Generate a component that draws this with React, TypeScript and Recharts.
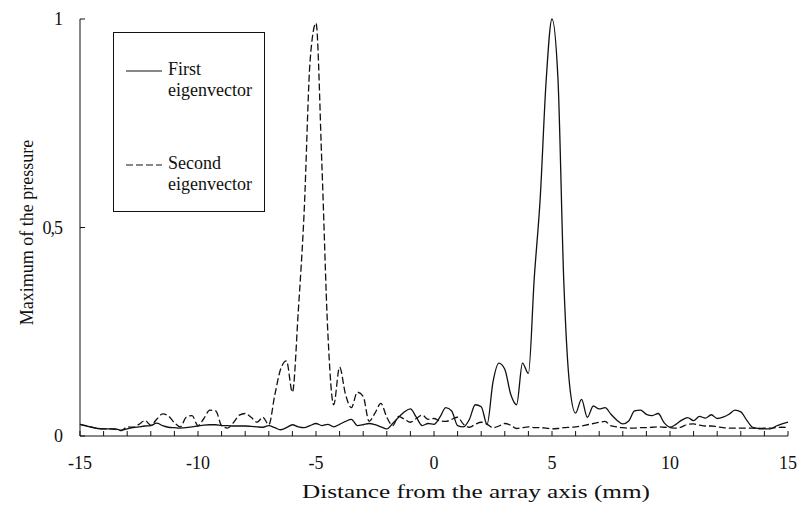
import { LineChart, Line, XAxis, YAxis, Legend, Label } from "recharts";

// distance from the array axis, mm
const distance = [
  -15, -14.75, -14.5, -14.25, -14, -13.75, -13.5, -13.25, -13, -12.75, -12.5, -12.25,
  -12, -11.75, -11.5, -11.25, -11, -10.75, -10.5, -10.25, -10, -9.75, -9.5, -9.25,
  -9, -8.75, -8.5, -8.25, -8, -7.75, -7.5, -7.25, -7, -6.75, -6.5, -6.25,
  -6, -5.75, -5.5, -5.25, -5, -4.75, -4.5, -4.25, -4, -3.75, -3.5, -3.25,
  -3, -2.75, -2.5, -2.25, -2, -1.75, -1.5, -1.25, -1, -0.75, -0.5, -0.25,
  0, 0.25, 0.5, 0.75, 1, 1.25, 1.5, 1.75, 2, 2.25, 2.5, 2.75,
  3, 3.25, 3.5, 3.75, 4, 4.25, 4.5, 4.75, 5, 5.25, 5.5, 5.75,
  6, 6.25, 6.5, 6.75, 7, 7.25, 7.5, 7.75, 8, 8.25, 8.5, 8.75,
  9, 9.25, 9.5, 9.75, 10, 10.25, 10.5, 10.75, 11, 11.25, 11.5, 11.75,
  12, 12.25, 12.5, 12.75, 13, 13.25, 13.5, 13.75, 14, 14.25, 14.5, 14.75,
  15,
];

const firstEigen = [
  0.028, 0.024, 0.021, 0.018, 0.017, 0.017, 0.017, 0.014, 0.017, 0.02, 0.022, 0.024,
  0.025, 0.031, 0.025, 0.021, 0.02, 0.019, 0.02, 0.022, 0.024, 0.026, 0.027, 0.027,
  0.025, 0.025, 0.024, 0.024, 0.024, 0.023, 0.022, 0.021, 0.025, 0.02, 0.015, 0.02,
  0.027, 0.022, 0.02, 0.025, 0.03, 0.025, 0.028, 0.022, 0.028, 0.035, 0.04, 0.025,
  0.027, 0.03, 0.027, 0.022, 0.017, 0.03, 0.045, 0.058, 0.065, 0.045, 0.025, 0.03,
  0.028, 0.045, 0.068, 0.06, 0.025, 0.022, 0.04, 0.075, 0.07, 0.028, 0.13, 0.175,
  0.16, 0.1, 0.075, 0.175, 0.15, 0.38, 0.57, 0.85, 1.0, 0.86, 0.37, 0.12,
  0.055, 0.088, 0.045, 0.072, 0.065, 0.068, 0.052, 0.038, 0.029, 0.036, 0.06, 0.062,
  0.052, 0.049, 0.054, 0.032, 0.021, 0.028, 0.038, 0.044, 0.037, 0.047, 0.043, 0.051,
  0.042, 0.045, 0.052, 0.062, 0.058, 0.038, 0.021, 0.018, 0.017, 0.017, 0.024, 0.029,
  0.033,
];

const secondEigen = [
  0.028, 0.025, 0.021, 0.018, 0.017, 0.017, 0.016, 0.013, 0.022, 0.021, 0.028, 0.037,
  0.026, 0.04, 0.053, 0.048, 0.032, 0.022, 0.045, 0.049, 0.025, 0.042, 0.062, 0.06,
  0.025, 0.019, 0.032, 0.05, 0.054, 0.045, 0.033, 0.045, 0.027, 0.097, 0.16, 0.18,
  0.105, 0.3, 0.54, 0.9, 0.99, 0.65, 0.25, 0.075, 0.165, 0.1, 0.068, 0.105,
  0.095, 0.035, 0.055, 0.078, 0.045, 0.025, 0.047, 0.04, 0.033, 0.042, 0.05, 0.04,
  0.042, 0.036, 0.035, 0.04, 0.045, 0.028, 0.021, 0.028, 0.033, 0.028, 0.02, 0.024,
  0.03, 0.026, 0.018, 0.02, 0.022, 0.02, 0.02, 0.019, 0.017, 0.018, 0.02, 0.021,
  0.022, 0.024, 0.027, 0.03, 0.033, 0.035, 0.024, 0.022, 0.02, 0.019, 0.019, 0.02,
  0.02, 0.021, 0.022, 0.021, 0.02, 0.019, 0.022, 0.028, 0.029, 0.026, 0.024, 0.024,
  0.022, 0.02, 0.019, 0.019, 0.019, 0.019, 0.019, 0.018, 0.019, 0.019, 0.02, 0.021,
  0.02,
];

const xTicks = [
  -15, -14, -13, -12, -11, -10, -9, -8, -7, -6, -5, -4, -3, -2, -1, 0,
  1, 2, 3, 4, 5, 6, 7, 8, 9, 10, 11, 12, 13, 14, 15,
];
const yTicks = [0, 0.5, 1];

const FONT = '"Liberation Serif", "Times New Roman", serif';
const INK = "#111";

const data = distance.map((x, i) => ({ x, first: firstEigen[i], second: secondEigen[i] }));

function XTick({ x, y, payload }: any) {
  const v = payload.value;
  return (
    <g>
      <line x1={x} x2={x} y1={y} y2={y - 5} stroke={INK} strokeWidth={1} />
      {v % 5 === 0 && (
        <text x={x} y={y + 33} textAnchor="middle" fontSize={18} fontFamily={FONT} fill={INK}>
          {v}
        </text>
      )}
    </g>
  );
}

function YTick({ x, y, payload }: any) {
  const label = String(payload.value).replace(".", ",");
  return (
    <g>
      <line x1={x} x2={x + 5} y1={y} y2={y} stroke={INK} strokeWidth={1} />
      <text x={x - 18} y={y + 6} textAnchor="end" fontSize={18} fontFamily={FONT} fill={INK} letterSpacing={-1}>
        {label}
      </text>
    </g>
  );
}

// the scanned figure has a wide, stretched x title
function XTitle({ viewBox }: any) {
  const cx = viewBox.x + viewBox.width / 2 + 42;
  return (
    <text
      x={cx}
      y={viewBox.y + 62}
      textAnchor="middle"
      fontSize={18}
      fontFamily={FONT}
      fill={INK}
      textLength={348}
      lengthAdjust="spacingAndGlyphs"
    >
      Distance from the array axis (mm)
    </text>
  );
}

function YTitle({ viewBox }: any) {
  const cx = viewBox.x + 7;
  const cy = viewBox.y + viewBox.height / 2 + 5;
  return (
    <text
      x={cx}
      y={cy}
      transform={`rotate(-90, ${cx}, ${cy})`}
      textAnchor="middle"
      dominantBaseline="central"
      fontSize={18}
      fontFamily={FONT}
      fill={INK}
    >
      Maximum of the pressure
    </text>
  );
}

function LegendBox({ payload }: any) {
  return (
    <div
      style={{
        width: 152,
        height: 180,
        border: `1px solid ${INK}`,
        boxSizing: "border-box",
        position: "relative",
        fontFamily: FONT,
        fontSize: 18,
        lineHeight: "21px",
        color: INK,
      }}
    >
      {(payload || []).map((p: any, i: number) => (
        <div key={p.value} style={{ position: "absolute", left: 10, top: 26 + i * 94, display: "flex" }}>
          <svg width={38} height={21} style={{ flex: "none" }}>
            <line
              x1={2}
              x2={38}
              y1={12}
              y2={12}
              stroke={INK}
              strokeWidth={1.2}
              strokeDasharray={p.payload?.strokeDasharray}
            />
          </svg>
          <div style={{ width: 95, marginLeft: 6, fontFamily: FONT }}>{p.value}</div>
        </div>
      ))}
    </div>
  );
}

export default function App() {
  return (
    <div style={{ position: "absolute", left: 0, top: 0, width: 799, height: 508, background: "#fff" }}>
      <LineChart width={799} height={508} data={data} margin={{ top: 19, right: 11, bottom: 0, left: 20 }}>
        <XAxis
          dataKey="x"
          type="number"
          domain={[-15, 15]}
          ticks={xTicks}
          interval={0}
          tickLine={false}
          tickSize={0}
          tickMargin={0}
          tick={<XTick />}
          axisLine={{ stroke: INK }}
          height={72}
        >
          <Label content={<XTitle />} />
        </XAxis>
        <YAxis
          type="number"
          domain={[0, 1]}
          ticks={yTicks}
          interval={0}
          tickLine={false}
          tickSize={0}
          tickMargin={0}
          tick={<YTick />}
          axisLine={{ stroke: INK }}
          width={60}
        >
          <Label content={<YTitle />} />
        </YAxis>
        <Legend
          layout="horizontal"
          verticalAlign="middle"
          align="center"
          content={<LegendBox />}
          wrapperStyle={{ left: 113, top: 32, width: 152, height: 180 }}
        />
        <Line
          name="First eigenvector"
          dataKey="first"
          type="monotone"
          stroke={INK}
          strokeWidth={1.3}
          dot={false}
          isAnimationActive={false}
        />
        <Line
          name="Second eigenvector"
          dataKey="second"
          type="monotone"
          stroke={INK}
          strokeWidth={1.3}
          strokeDasharray="7 3"
          dot={false}
          isAnimationActive={false}
        />
      </LineChart>
    </div>
  );
}
